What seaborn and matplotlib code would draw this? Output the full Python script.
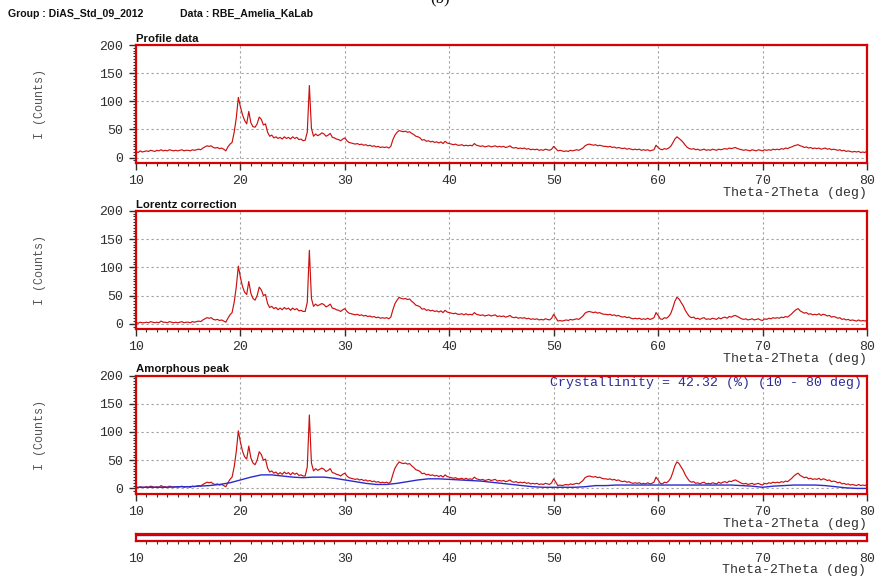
import matplotlib
matplotlib.use("Agg")
import matplotlib.pyplot as plt
import numpy as np
import pandas as pd
import seaborn as sns
from matplotlib.ticker import MultipleLocator

sns.set_style("white")
plt.rcParams['font.family'] = ['Liberation Mono', 'DejaVu Sans']

# ---------------- data ----------------
two_theta_start = 10.0
two_theta_step = 0.2

profile_counts = [
    11, 9, 12, 10, 11, 12, 11, 13, 12, 11, 13, 12, 14, 12, 13, 12, 14, 13, 12, 13, 12, 13, 14, 12, 13,
    13, 12, 14, 13, 14, 15, 14, 17, 19, 21, 20, 21, 18, 17, 18, 16, 17, 15, 12, 19, 24, 27, 45, 70, 107,
    90, 76, 66, 60, 82, 62, 55, 54, 60, 72, 68, 58, 60, 45, 38, 40, 35, 37, 34, 36, 33, 37, 34, 36, 33,
    37, 34, 36, 32, 33, 30, 31, 45, 128, 52, 38, 42, 39, 41, 44, 42, 38, 40, 43, 36, 35, 33, 32, 30, 33,
    35, 30, 27, 26, 25, 24, 25, 23, 24, 22, 23, 21, 22, 20, 21, 19, 20, 18, 19, 18, 19, 17, 20, 32, 40,
    45, 48, 47, 46, 47, 45, 46, 43, 41, 38, 37, 35, 31, 32, 29, 30, 28, 29, 27, 28, 26, 28, 25, 29, 26,
    25, 24, 23, 24, 22, 22, 23, 21, 22, 21, 22, 21, 25, 22, 21, 20, 21, 19, 20, 21, 19, 20, 21, 19, 20,
    19, 20, 18, 19, 21, 18, 17, 18, 16, 17, 16, 17, 15, 16, 14, 15, 14, 15, 13, 14, 13, 15, 14, 13, 15,
    20, 16, 12, 13, 12, 11, 12, 11, 13, 12, 13, 14, 13, 15, 17, 21, 23, 24, 23, 22, 23, 21, 22, 21, 20,
    20, 19, 20, 18, 19, 17, 18, 17, 16, 17, 15, 16, 15, 14, 15, 14, 15, 13, 14, 13, 14, 12, 13, 14, 22,
    18, 15, 14, 16, 15, 17, 20, 26, 33, 37, 34, 31, 27, 22, 18, 16, 15, 16, 14, 15, 13, 14, 15, 13, 14,
    13, 15, 14, 13, 15, 14, 15, 16, 15, 17, 16, 17, 18, 16, 15, 14, 13, 14, 13, 12, 14, 13, 12, 14, 13,
    12, 14, 13, 14, 13, 15, 14, 15, 14, 16, 15, 17, 16, 18, 19, 21, 22, 23, 21, 20, 18, 19, 17, 18, 16,
    17, 16, 17, 15, 16, 17, 15, 16, 14, 15, 14, 13, 14, 12, 13, 11, 12, 11, 10, 11, 10, 11, 9, 10, 9,
    12,
]

lorentz_counts = [
    3, 1, 3, 2, 2, 3, 2, 4, 3, 2, 3, 2, 5, 3, 3, 2, 4, 3, 2, 3, 2, 3, 4, 2, 3,
    3, 2, 4, 3, 4, 5, 4, 7, 9, 11, 10, 11, 8, 7, 8, 6, 7, 5, 3, 10, 16, 20, 38, 65, 102,
    82, 66, 56, 52, 75, 54, 45, 42, 50, 65, 60, 50, 52, 36, 29, 31, 27, 29, 25, 28, 25, 29, 26, 28, 24,
    28, 25, 27, 23, 24, 22, 22, 38, 130, 45, 31, 35, 32, 34, 36, 34, 30, 32, 35, 28, 27, 25, 24, 22, 25,
    27, 22, 19, 18, 17, 16, 17, 15, 16, 14, 15, 13, 14, 12, 13, 11, 12, 10, 11, 10, 11, 9, 12, 25, 36,
    42, 47, 45, 44, 45, 43, 44, 40, 37, 33, 32, 30, 26, 27, 24, 25, 23, 24, 22, 23, 21, 23, 20, 24, 21,
    20, 19, 18, 19, 17, 17, 18, 16, 18, 16, 17, 16, 20, 17, 16, 15, 16, 14, 15, 16, 14, 15, 16, 13, 14,
    13, 14, 12, 13, 15, 12, 11, 12, 10, 11, 10, 11, 9, 10, 8, 9, 8, 9, 7, 8, 7, 9, 8, 7, 10,
    17, 11, 5, 6, 5, 6, 7, 6, 8, 7, 8, 9, 8, 11, 14, 19, 21, 22, 21, 20, 21, 19, 20, 18, 17,
    17, 16, 17, 15, 16, 14, 15, 13, 12, 13, 11, 12, 10, 9, 10, 9, 10, 8, 9, 8, 10, 8, 9, 11, 20,
    15, 9, 8, 11, 10, 13, 18, 28, 40, 47, 44, 38, 32, 24, 18, 13, 11, 12, 9, 10, 8, 10, 11, 8, 9,
    8, 10, 9, 8, 11, 9, 11, 12, 10, 13, 12, 14, 15, 13, 11, 9, 8, 9, 7, 8, 9, 7, 8, 9, 7,
    6, 9, 8, 10, 9, 11, 10, 11, 10, 12, 11, 13, 12, 15, 18, 22, 25, 27, 23, 21, 19, 20, 17, 18, 16,
    17, 16, 18, 15, 17, 16, 14, 15, 12, 13, 12, 10, 11, 8, 9, 7, 8, 6, 7, 6, 5, 7, 5, 6, 5,
    7,
]

amorphous_theta = list(range(10, 81))
amorphous_counts = [
    2, 2, 2, 2, 3, 3, 4, 5, 7, 10,
    15, 20, 24, 24, 22, 20, 19, 20, 20, 18,
    15, 12, 9, 7, 7, 9, 12, 15, 17, 17,
    16, 15, 14, 13, 11, 9, 7, 5, 3, 2,
    2, 2, 2, 3, 5, 5, 6, 6, 6, 6,
    6, 6, 6, 6, 6, 6, 6, 6, 5, 4,
    2, 4, 5, 6, 6, 6, 5, 3, 1, 0,
    0,
]

residual_theta = [10, 80]
residual_counts = [0, 0]

x_ticks = [10, 20, 30, 40, 50, 60, 70, 80]
y_ticks = [0, 50, 100, 150, 200]
panel_titles = ["Profile data", "Lorentz correction", "Amorphous peak"]
x_label = "Theta-2Theta (deg)"
y_label = "I (Counts)"
crystallinity_text = "Crystallinity = 42.32 (%) (10 - 80 deg)"
header_group = "Group : DiAS_Std_09_2012"
header_data = "Data : RBE_Amelia_KaLab"

n = len(profile_counts)
theta = [round(two_theta_start + i * two_theta_step, 2) for i in range(n)]
df = pd.DataFrame({"theta": theta, "profile": profile_counts, "lorentz": lorentz_counts})
df_am = pd.DataFrame({"theta": amorphous_theta, "amorphous": amorphous_counts})
df_res = pd.DataFrame({"theta": residual_theta, "res": residual_counts})

# ---------------- layout ----------------
W, H = 879, 581
fig = plt.figure(figsize=(W / 100, H / 100), dpi=100)

def px_axes(left, top, right, bottom):
    return fig.add_axes([left / W, 1 - bottom / H, (right - left) / W, (bottom - top) / H])

RED_LINE = "#cc1010"
SPINE = "#d80000"
BLUE = "#2a2ad0"
TXT = "#303030"
GRID = "#a0a0a0"

def style_axes(ax, ymin, ymax, yt):
    ax.set_xlim(10, 80)
    ax.set_ylim(ymin, ymax)
    ax.set_xticks(x_ticks)
    ax.set_yticks(yt)
    ax.xaxis.set_minor_locator(MultipleLocator(1))
    if len(yt) > 1:
        ax.yaxis.set_minor_locator(MultipleLocator(5))
    ax.tick_params(axis="both", which="major", direction="out", length=5, width=1,
                   color=TXT, labelcolor=TXT, labelsize=9.5, pad=4,
                   bottom=True, left=True, top=False, right=False)
    ax.tick_params(axis="both", which="minor", direction="out", length=2.5, width=0.8,
                   color=TXT, bottom=True, left=True, top=False, right=False)
    for s in ax.spines.values():
        s.set_color(SPINE)
        s.set_linewidth(1.6)
        s.set_visible(True)
    ax.grid(True, which="major", axis="both", color=GRID, linestyle=(0, (2, 2.5)), linewidth=0.8)
    ax.set_axisbelow(True)
    ax.set_xlabel("")
    ax.set_ylabel("")
    ax.text(1.0, -0.255, x_label, transform=ax.transAxes, ha="right", va="center",
            fontsize=9.5, color=TXT)

tops = [45, 210.7, 375.5]
bottoms = [162.7, 329, 493.5]
series = ["profile", "lorentz", "lorentz"]

axes = []
for i in range(3):
    ax = px_axes(136, tops[i], 867, bottoms[i])
    sns.lineplot(data=df, x="theta", y=series[i], ax=ax, color=RED_LINE,
                 linewidth=0.85, estimator=None, sort=False)
    if i == 2:
        sns.lineplot(data=df_am, x="theta", y="amorphous", ax=ax, color=BLUE,
                     linewidth=1.0, estimator=None, sort=False)
        ax.text(0.993, 0.935, crystallinity_text, transform=ax.transAxes, ha="right",
                va="center", fontsize=9.5, color="#2b2b9c")
    style_axes(ax, -9, 200, y_ticks)
    ax.text(0.0, 1.01, panel_titles[i], transform=ax.transAxes, ha="left", va="bottom",
            fontsize=8.2, fontweight="bold", family=["Liberation Sans", "DejaVu Sans"],
            color="#111111")
    ax.text(-0.132, 0.5, y_label, transform=ax.transAxes, rotation=90, ha="center",
            va="center", fontsize=8.5, color="#555555")
    axes.append(ax)

# thin residual strip
ax4 = px_axes(136, 534, 867, 540.5)
sns.lineplot(data=df_res, x="theta", y="res", ax=ax4, color=BLUE, linewidth=1.0,
             estimator=None, sort=False)
ax4.set_xlim(10, 80)
ax4.set_ylim(-1.5, 0.3)
ax4.set_xticks(x_ticks)
ax4.set_yticks([0])
ax4.set_yticklabels([""])
ax4.xaxis.set_minor_locator(MultipleLocator(1))
ax4.tick_params(axis="both", which="major", direction="out", length=5, width=1,
                color=TXT, labelcolor=TXT, labelsize=9.5, pad=4)
ax4.tick_params(axis="both", which="minor", direction="out", length=2.5, width=0.8,
                color=TXT, bottom=True)
for s in ax4.spines.values():
    s.set_color(SPINE)
    s.set_linewidth(1.6)
ax4.set_xlabel("")
ax4.set_ylabel("")
fig.text(866 / W, 1 - 570 / H, x_label, ha="right", va="center", fontsize=9.5, color=TXT)

# header
hdr_font = ["Liberation Sans", "DejaVu Sans"]
fig.text(8 / W, 1 - 14 / H, header_group, ha="left", va="center", fontsize=7.6,
         fontweight="bold", family=hdr_font, color="#111111")
fig.text(180 / W, 1 - 14 / H, header_data, ha="left", va="center", fontsize=7.6,
         fontweight="bold", family=hdr_font, color="#111111")
fig.text(440 / W, 1 + 2 / H, "(b)", ha="center", va="center", fontsize=12,
         family=["Liberation Serif", "DejaVu Serif"], color="#111111")

fig.savefig("out.png", dpi=100)
